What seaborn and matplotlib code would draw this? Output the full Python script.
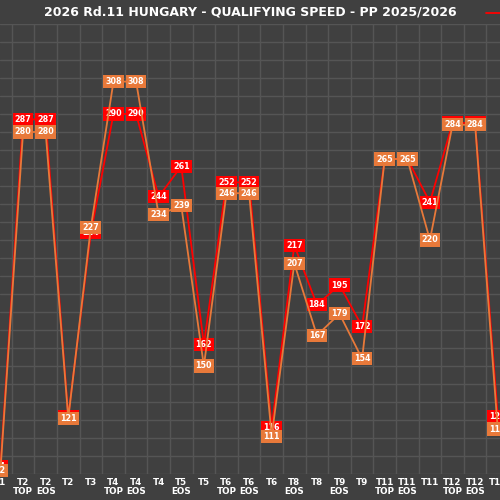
import numpy as np
import pandas as pd
import seaborn as sns
import matplotlib.pyplot as plt
from matplotlib.ticker import MultipleLocator

# corners of the lap, in the order they are driven
corners = ['T1', 'T2\nTOP', 'T2\nEOS', 'T2', 'T3', 'T4\nTOP', 'T4\nEOS', 'T4',
           'T5\nEOS', 'T5', 'T6\nTOP', 'T6\nEOS', 'T6', 'T8\nEOS', 'T8',
           'T9\nEOS', 'T9', 'T11\nTOP', 'T11\nEOS', 'T11', 'T12\nTOP',
           'T12\nEOS', 'T12']

# speeds in km/h
speed_2026 = [94, 287, 287, 122, 224, 290, 290, 244, 261, 162, 252, 252,
              116, 217, 184, 195, 172, 265, 265, 241, 285, 285, 122]
speed_2025 = [92, 280, 280, 121, 227, 308, 308, 234, 239, 150, 246, 246,
              111, 207, 167, 179, 154, 265, 265, 220, 284, 284, 115]

seasons = ['2026', '2025']
colors = {'2026': '#ff0000', '2025': '#e8793a'}
bg = '#404040'

df = pd.DataFrame({
    'pos': list(range(len(corners))) * 2,
    'speed': speed_2026 + speed_2025,
    'season': ['2026'] * len(corners) + ['2025'] * len(corners),
})

sns.set_theme(style='dark', rc={'axes.facecolor': bg, 'figure.facecolor': bg})
plt.rcParams['font.family'] = ['DejaVu Sans']

fig = plt.figure(figsize=(5, 5), dpi=100)
ax = fig.add_axes([0, 0.052, 1, 0.9])

sns.lineplot(data=df, x='pos', y='speed', hue='season', hue_order=seasons,
             palette=colors, linewidth=1.3, ax=ax, legend=False)
for i, line in enumerate(ax.get_lines()):
    line.set_zorder(2 if i == 0 else 4)

# value tags
for season, vals, z in [('2026', speed_2026, 3), ('2025', speed_2025, 5)]:
    for i, v in enumerate(vals):
        ax.text(i, v, str(v), ha='center', va='center', fontsize=5.8,
                fontweight='bold', color='white', zorder=z,
                bbox=dict(boxstyle='square,pad=0.25', fc=colors[season],
                          ec='none'))

ax.set_xticks(range(len(corners)))
ax.set_xticklabels(corners, fontsize=6.3, fontweight='bold', color='white',
                   linespacing=1.0)
ax.set_xticks(np.arange(-0.5, len(corners), 1), minor=True)
ax.yaxis.set_major_locator(MultipleLocator(10))
ax.set_xlim(-0.02, 22.1)
ax.set_ylim(90, 340)
ax.set_yticklabels([])
ax.tick_params(axis='both', which='both', length=0, pad=3)
ax.grid(False)
ax.grid(True, which='minor', axis='x', color='#555555', linewidth=1)
ax.grid(True, which='major', axis='y', color='#555555', linewidth=1)
ax.set_axisbelow(True)
ax.set_xlabel('')
ax.set_ylabel('')
for s in ax.spines.values():
    s.set_visible(False)

# legend sits mostly outside the canvas, only the first handle shows
handles = [plt.Line2D([], [], color=colors[s], lw=1.3) for s in seasons]
fig.legend(handles, seasons, loc='center left', ncol=2, frameon=False,
           bbox_to_anchor=(0.972, 1 - 13 / 500), borderpad=0,
           borderaxespad=0, fontsize=7, labelcolor='white')

fig.suptitle('2026 Rd.11 HUNGARY - QUALIFYING SPEED - PP 2025/2026',
             y=1 - 12 / 500, va='center', fontsize=9.0, fontweight='bold',
             color='white')

fig.savefig('out.png', dpi=100, facecolor=bg)
